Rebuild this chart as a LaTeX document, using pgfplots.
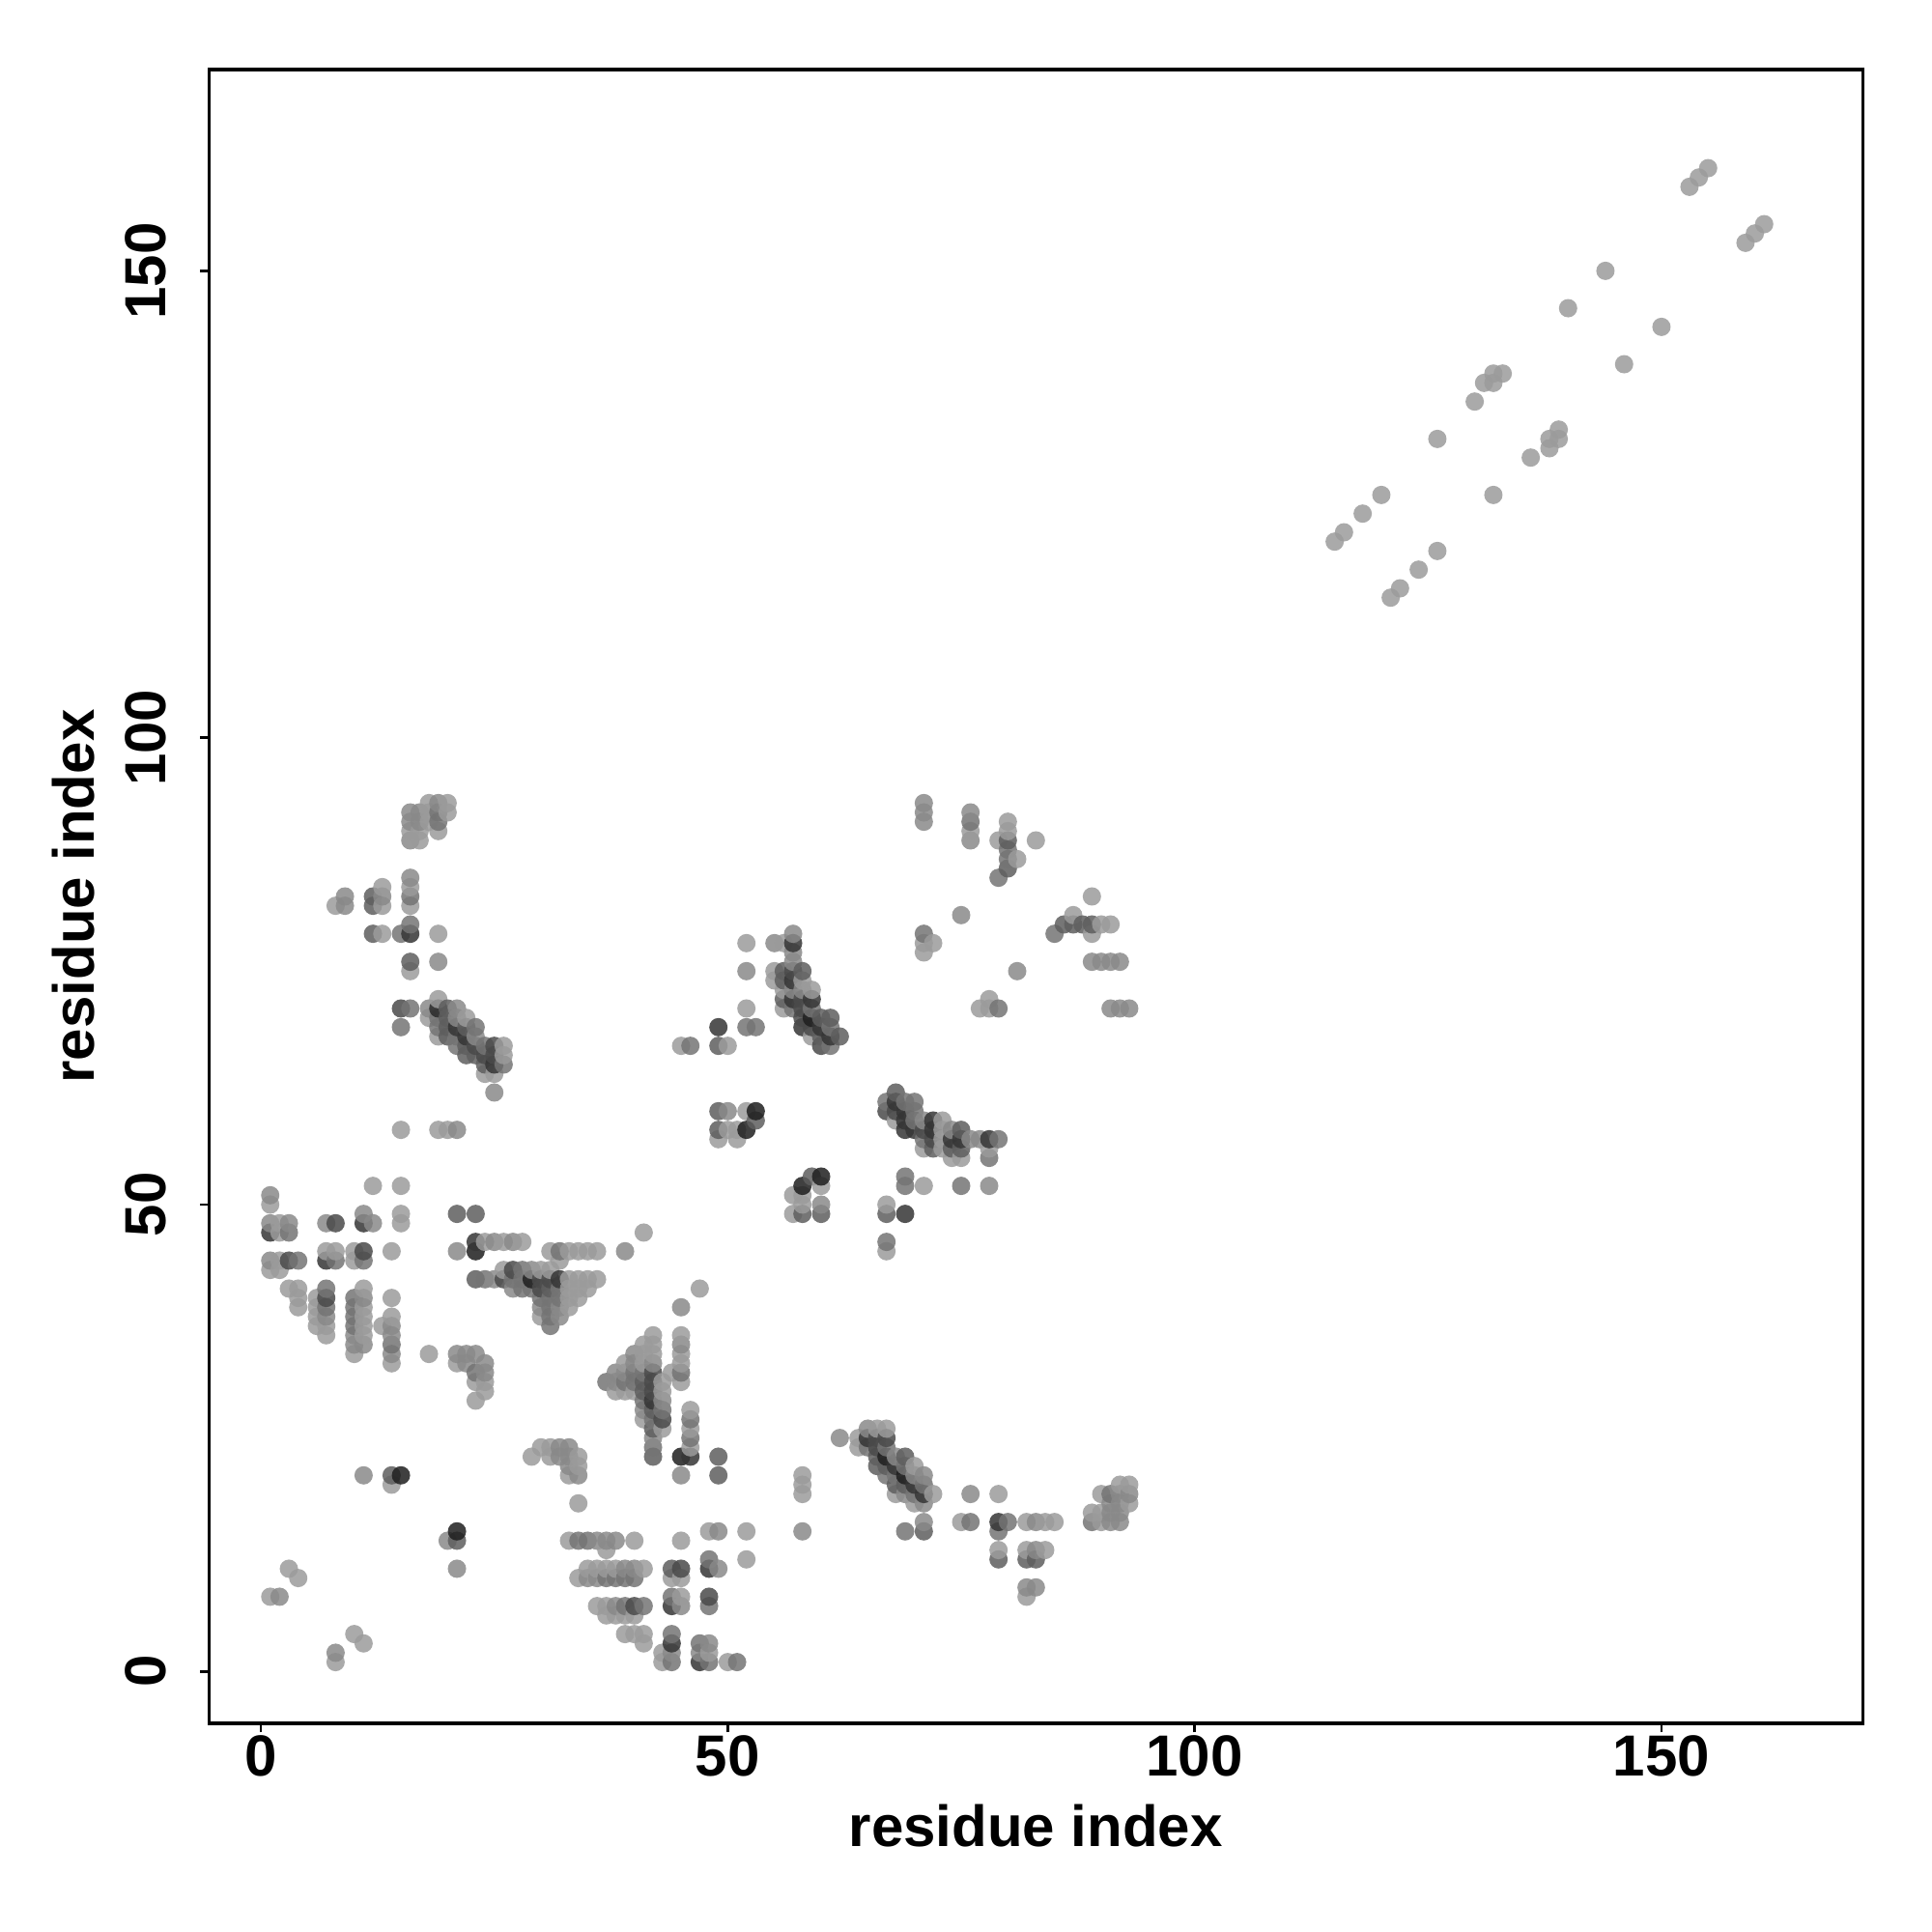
\documentclass[border=0pt]{standalone}
\usepackage{fontspec}
\setmainfont{Liberation Sans}
\usepackage{pgfplots}
\usepackage{pgfplotstable}
\pgfplotsset{compat=1.18}

% contacts: residue i, residue j, grey level
\pgfplotstableread[row sep=\\]{
x y g\\
1 8 0.55\\ 1 43 0.55\\ 1 44 0.47\\ 1 47 0.10\\ 1 48 0.47\\ 1 50 0.55\\ 1 51 0.47\\
2 8 0.47\\ 2 43 0.55\\ 2 44 0.55\\ 2 47 0.55\\ 2 48 0.55\\
3 11 0.55\\ 3 41 0.55\\ 3 44 0.19\\ 3 47 0.38\\ 3 48 0.47\\
4 10 0.55\\ 4 39 0.55\\ 4 40 0.55\\ 4 41 0.55\\ 4 44 0.38\\
6 37 0.55\\ 6 38 0.55\\ 6 39 0.55\\ 6 40 0.55\\
7 36 0.55\\ 7 37 0.55\\ 7 38 0.47\\ 7 39 0.38\\ 7 40 0.19\\ 7 41 0.38\\ 7 44 0.10\\ 7 45 0.55\\ 7 48 0.47\\
8 1 0.55\\ 8 2 0.47\\ 8 44 0.38\\ 8 45 0.55\\ 8 48 0.19\\ 8 82 0.55\\
9 82 0.47\\ 9 83 0.47\\
10 4 0.55\\ 10 34 0.55\\ 10 35 0.47\\ 10 36 0.47\\ 10 37 0.38\\ 10 38 0.38\\ 10 39 0.38\\ 10 40 0.38\\ 10 44 0.55\\ 10 45 0.55\\
11 3 0.55\\ 11 21 0.47\\ 11 35 0.47\\ 11 36 0.55\\ 11 37 0.55\\ 11 38 0.55\\ 11 39 0.55\\ 11 40 0.47\\ 11 41 0.55\\ 11 44 0.38\\ 11 45 0.19\\ 11 48 0.10\\ 11 49 0.47\\
12 48 0.47\\ 12 52 0.55\\ 12 79 0.28\\ 12 82 0.28\\ 12 83 0.28\\
13 37 0.55\\ 13 79 0.55\\ 13 82 0.55\\ 13 83 0.47\\ 13 84 0.55\\
14 20 0.55\\ 14 21 0.28\\ 14 33 0.55\\ 14 34 0.47\\ 14 35 0.38\\ 14 36 0.47\\ 14 37 0.47\\ 14 38 0.55\\ 14 40 0.55\\ 14 45 0.55\\
15 21 0.00\\ 15 48 0.55\\ 15 49 0.55\\ 15 52 0.55\\ 15 58 0.55\\ 15 69 0.38\\ 15 71 0.19\\ 15 79 0.38\\
16 71 0.38\\ 16 75 0.55\\ 16 76 0.28\\ 16 79 0.10\\ 16 80 0.38\\ 16 82 0.55\\ 16 83 0.38\\ 16 84 0.55\\ 16 85 0.47\\ 16 89 0.47\\ 16 90 0.55\\ 16 91 0.47\\ 16 92 0.47\\
17 89 0.55\\ 17 90 0.55\\ 17 91 0.47\\ 17 92 0.47\\
18 34 0.55\\ 18 70 0.55\\ 18 71 0.47\\ 18 91 0.55\\ 18 92 0.55\\ 18 93 0.55\\
19 58 0.55\\ 19 68 0.55\\ 19 69 0.38\\ 19 70 0.38\\ 19 71 0.05\\ 19 72 0.55\\ 19 76 0.47\\ 19 79 0.55\\ 19 90 0.55\\ 19 91 0.38\\ 19 92 0.38\\ 19 93 0.47\\
20 14 0.47\\ 20 58 0.55\\ 20 68 0.28\\ 20 69 0.28\\ 20 70 0.28\\ 20 71 0.28\\ 20 92 0.55\\ 20 93 0.55\\
21 11 0.47\\ 21 14 0.28\\ 21 15 0.00\\ 21 33 0.55\\ 21 34 0.47\\ 21 45 0.47\\ 21 49 0.28\\ 21 58 0.47\\ 21 67 0.38\\ 21 68 0.38\\ 21 69 0.10\\ 21 70 0.47\\ 21 71 0.47\\
22 33 0.47\\ 22 34 0.47\\ 22 66 0.28\\ 22 67 0.28\\ 22 68 0.10\\ 22 69 0.28\\ 22 70 0.55\\
23 29 0.55\\ 23 31 0.55\\ 23 32 0.38\\ 23 34 0.47\\ 23 42 0.28\\ 23 45 0.00\\ 23 46 0.10\\ 23 49 0.28\\ 23 66 0.28\\ 23 67 0.19\\ 23 68 0.47\\ 23 69 0.38\\
24 30 0.55\\ 24 31 0.55\\ 24 32 0.47\\ 24 33 0.47\\ 24 42 0.38\\ 24 46 0.55\\ 24 64 0.55\\ 24 65 0.28\\ 24 66 0.19\\ 24 67 0.38\\
25 42 0.47\\ 25 46 0.47\\ 25 62 0.47\\ 25 64 0.55\\ 25 65 0.10\\ 25 66 0.19\\ 25 67 0.19\\
26 42 0.19\\ 26 43 0.55\\ 26 46 0.55\\ 26 65 0.38\\ 26 66 0.55\\ 26 67 0.55\\
27 41 0.47\\ 27 42 0.38\\ 27 43 0.19\\ 27 46 0.47\\
28 41 0.38\\ 28 42 0.38\\ 28 43 0.38\\ 28 46 0.55\\
29 23 0.55\\ 29 41 0.38\\ 29 42 0.00\\ 29 43 0.47\\
30 24 0.55\\ 30 38 0.55\\ 30 39 0.47\\ 30 40 0.38\\ 30 41 0.19\\ 30 42 0.19\\ 30 43 0.55\\
31 23 0.55\\ 31 24 0.55\\ 31 37 0.38\\ 31 38 0.38\\ 31 39 0.38\\ 31 40 0.38\\ 31 41 0.28\\ 31 42 0.19\\ 31 43 0.55\\ 31 45 0.55\\
32 23 0.47\\ 32 24 0.47\\ 32 38 0.47\\ 32 39 0.47\\ 32 40 0.38\\ 32 41 0.38\\ 32 42 0.10\\ 32 44 0.55\\ 32 45 0.38\\
33 14 0.55\\ 33 21 0.55\\ 33 22 0.47\\ 33 23 0.47\\ 33 24 0.47\\ 33 39 0.55\\ 33 40 0.55\\ 33 41 0.55\\ 33 42 0.55\\ 33 45 0.55\\
34 10 0.55\\ 34 14 0.38\\ 34 18 0.55\\ 34 21 0.47\\ 34 22 0.55\\ 34 23 0.55\\ 34 40 0.55\\ 34 41 0.55\\ 34 42 0.55\\ 34 45 0.55\\
35 10 0.47\\ 35 11 0.55\\ 35 14 0.38\\ 35 41 0.55\\ 35 42 0.55\\ 35 45 0.55\\
36 7 0.55\\ 36 10 0.47\\ 36 11 0.55\\ 36 14 0.47\\ 36 42 0.55\\ 36 45 0.55\\
37 6 0.55\\ 37 7 0.55\\ 37 10 0.38\\ 37 11 0.55\\ 37 13 0.55\\ 37 14 0.47\\ 37 31 0.38\\
38 6 0.55\\ 38 7 0.47\\ 38 10 0.38\\ 38 11 0.55\\ 38 14 0.47\\ 38 30 0.55\\ 38 31 0.47\\ 38 32 0.47\\
39 4 0.55\\ 39 6 0.55\\ 39 7 0.38\\ 39 10 0.38\\ 39 11 0.47\\ 39 30 0.55\\ 39 31 0.38\\ 39 32 0.47\\ 39 33 0.55\\ 39 45 0.47\\
40 4 0.55\\ 40 6 0.55\\ 40 7 0.19\\ 40 10 0.38\\ 40 11 0.47\\ 40 14 0.55\\ 40 30 0.55\\ 40 31 0.38\\ 40 32 0.38\\ 40 33 0.47\\ 40 34 0.47\\
41 3 0.55\\ 41 4 0.55\\ 41 7 0.38\\ 41 11 0.55\\ 41 27 0.55\\ 41 28 0.47\\ 41 29 0.38\\ 41 30 0.28\\ 41 31 0.28\\ 41 32 0.38\\ 41 33 0.55\\ 41 34 0.55\\ 41 35 0.55\\ 41 47 0.55\\
42 23 0.28\\ 42 24 0.38\\ 42 25 0.47\\ 42 26 0.28\\ 42 27 0.38\\ 42 28 0.28\\ 42 29 0.10\\ 42 30 0.19\\ 42 31 0.19\\ 42 32 0.19\\ 42 33 0.47\\ 42 34 0.55\\ 42 35 0.55\\ 42 36 0.55\\
43 1 0.55\\ 43 2 0.55\\ 43 26 0.55\\ 43 27 0.19\\ 43 28 0.38\\ 43 29 0.47\\ 43 30 0.55\\ 43 31 0.55\\
44 1 0.38\\ 44 2 0.47\\ 44 3 0.10\\ 44 4 0.38\\ 44 7 0.10\\ 44 8 0.38\\ 44 10 0.55\\ 44 11 0.28\\ 44 32 0.55\\
45 7 0.47\\ 45 8 0.55\\ 45 10 0.55\\ 45 11 0.19\\ 45 14 0.55\\ 45 21 0.47\\ 45 23 0.00\\ 45 31 0.55\\ 45 32 0.38\\ 45 33 0.55\\ 45 34 0.55\\ 45 35 0.47\\ 45 36 0.55\\ 45 39 0.47\\ 45 67 0.55\\
46 23 0.10\\ 46 24 0.55\\ 46 25 0.38\\ 46 26 0.55\\ 46 27 0.38\\ 46 28 0.55\\ 46 67 0.38\\
47 1 0.10\\ 47 2 0.47\\ 47 3 0.38\\ 47 41 0.55\\
48 1 0.38\\ 48 2 0.55\\ 48 3 0.47\\ 48 7 0.38\\ 48 8 0.19\\ 48 11 0.10\\ 48 12 0.38\\ 48 15 0.55\\
49 11 0.47\\ 49 15 0.47\\ 49 21 0.28\\ 49 23 0.28\\ 49 57 0.55\\ 49 58 0.28\\ 49 60 0.28\\ 49 67 0.28\\ 49 69 0.10\\
50 1 0.55\\ 50 58 0.55\\ 50 60 0.47\\ 50 67 0.55\\
51 1 0.38\\ 51 57 0.55\\ 51 58 0.55\\
52 12 0.55\\ 52 15 0.55\\ 52 58 0.00\\ 52 60 0.55\\ 52 69 0.38\\ 52 71 0.55\\ 52 75 0.47\\ 52 78 0.55\\
53 59 0.28\\ 53 60 0.00\\ 53 69 0.38\\
55 74 0.55\\ 55 75 0.55\\ 55 78 0.47\\
56 71 0.55\\ 56 72 0.28\\ 56 73 0.55\\ 56 74 0.28\\ 56 75 0.28\\ 56 78 0.55\\
57 49 0.55\\ 57 51 0.55\\ 57 71 0.38\\ 57 72 0.10\\ 57 73 0.47\\ 57 74 0.10\\ 57 75 0.19\\ 57 76 0.47\\ 57 77 0.47\\ 57 78 0.10\\ 57 79 0.47\\
58 15 0.47\\ 58 19 0.55\\ 58 20 0.55\\ 58 21 0.55\\ 58 49 0.28\\ 58 50 0.55\\ 58 51 0.55\\ 58 52 0.00\\ 58 69 0.10\\ 58 70 0.19\\ 58 71 0.19\\ 58 72 0.19\\ 58 73 0.47\\ 58 74 0.55\\ 58 75 0.28\\
59 53 0.28\\ 59 68 0.55\\ 59 69 0.19\\ 59 70 0.00\\ 59 71 0.38\\ 59 72 0.10\\ 59 73 0.55\\
60 49 0.28\\ 60 50 0.47\\ 60 52 0.55\\ 60 53 0.00\\ 60 67 0.19\\ 60 68 0.28\\ 60 69 0.10\\ 60 70 0.28\\
61 67 0.38\\ 61 68 0.10\\ 61 69 0.38\\ 61 70 0.28\\
62 25 0.47\\ 62 68 0.28\\
64 24 0.55\\ 64 25 0.55\\
65 24 0.38\\ 65 25 0.10\\ 65 26 0.47\\
66 22 0.28\\ 66 23 0.28\\ 66 24 0.19\\ 66 25 0.19\\ 66 26 0.55\\
67 21 0.38\\ 67 22 0.28\\ 67 23 0.00\\ 67 24 0.38\\ 67 25 0.19\\ 67 26 0.55\\ 67 45 0.55\\ 67 46 0.38\\ 67 49 0.28\\ 67 50 0.55\\ 67 60 0.19\\ 67 61 0.38\\
68 19 0.55\\ 68 20 0.28\\ 68 21 0.38\\ 68 22 0.10\\ 68 23 0.47\\ 68 59 0.55\\ 68 60 0.19\\ 68 61 0.10\\ 68 62 0.28\\
69 15 0.38\\ 69 19 0.47\\ 69 20 0.28\\ 69 21 0.00\\ 69 22 0.38\\ 69 23 0.28\\ 69 49 0.10\\ 69 52 0.38\\ 69 53 0.38\\ 69 58 0.10\\ 69 59 0.10\\ 69 60 0.10\\ 69 61 0.38\\
70 18 0.55\\ 70 19 0.38\\ 70 20 0.10\\ 70 21 0.47\\ 70 22 0.55\\ 70 58 0.10\\ 70 59 0.38\\ 70 60 0.38\\ 70 61 0.38\\
71 15 0.28\\ 71 16 0.47\\ 71 18 0.47\\ 71 19 0.10\\ 71 20 0.38\\ 71 21 0.47\\ 71 52 0.55\\ 71 56 0.55\\ 71 57 0.38\\ 71 58 0.19\\ 71 59 0.47\\ 71 77 0.55\\ 71 78 0.55\\ 71 79 0.38\\ 71 91 0.47\\ 71 92 0.47\\ 71 93 0.47\\
72 19 0.55\\ 72 56 0.28\\ 72 57 0.19\\ 72 58 0.10\\ 72 59 0.10\\ 72 78 0.55\\
73 56 0.55\\ 73 57 0.55\\ 73 58 0.55\\ 73 59 0.55\\
74 55 0.55\\ 74 56 0.28\\ 74 57 0.10\\ 74 58 0.47\\
75 16 0.55\\ 75 52 0.38\\ 75 55 0.55\\ 75 56 0.28\\ 75 57 0.10\\ 75 58 0.28\\ 75 81 0.47\\
76 16 0.38\\ 76 19 0.47\\ 76 57 0.47\\ 76 89 0.47\\ 76 90 0.55\\ 76 91 0.38\\ 76 92 0.47\\
77 57 0.47\\ 77 71 0.55\\
78 52 0.47\\ 78 55 0.38\\ 78 56 0.55\\ 78 57 0.10\\ 78 71 0.55\\ 78 72 0.55\\
79 12 0.28\\ 79 13 0.55\\ 79 15 0.38\\ 79 16 0.10\\ 79 19 0.55\\ 79 57 0.38\\ 79 71 0.38\\ 79 85 0.38\\ 79 89 0.55\\
80 16 0.38\\ 80 86 0.28\\ 80 87 0.38\\ 80 88 0.38\\ 80 89 0.28\\ 80 90 0.55\\ 80 91 0.55\\
81 75 0.47\\ 81 87 0.55\\
82 8 0.55\\ 82 9 0.47\\ 82 12 0.28\\ 82 13 0.55\\ 82 16 0.55\\
83 9 0.47\\ 83 12 0.28\\ 83 13 0.47\\ 83 16 0.47\\ 83 89 0.55\\
84 13 0.55\\ 84 16 0.55\\
85 16 0.55\\ 85 79 0.38\\
86 80 0.28\\
87 80 0.28\\ 87 81 0.55\\
88 80 0.28\\
89 16 0.38\\ 89 17 0.55\\ 89 76 0.47\\ 89 79 0.55\\ 89 80 0.28\\ 89 83 0.55\\
90 16 0.55\\ 90 17 0.55\\ 90 19 0.55\\ 90 76 0.47\\ 90 80 0.55\\
91 16 0.47\\ 91 17 0.47\\ 91 18 0.47\\ 91 19 0.38\\ 91 71 0.47\\ 91 76 0.47\\ 91 80 0.55\\
92 16 0.47\\ 92 17 0.47\\ 92 18 0.47\\ 92 19 0.47\\ 92 20 0.55\\ 92 71 0.47\\ 92 76 0.47\\
93 18 0.55\\ 93 19 0.47\\ 93 20 0.55\\ 93 71 0.47\\
115 121 0.55\\ 116 122 0.55\\ 118 124 0.55\\ 120 126 0.55\\ 121 115 0.55\\ 122 116 0.55\\ 124 118 0.55\\
126 120 0.55\\ 126 132 0.55\\ 130 136 0.55\\ 131 138 0.55\\ 132 126 0.55\\ 132 138 0.55\\ 132 139 0.55\\ 133 139 0.55\\
136 130 0.55\\ 138 131 0.55\\ 138 132 0.55\\ 139 132 0.55\\ 139 133 0.55\\ 140 146 0.55\\ 144 150 0.55\\
146 140 0.55\\ 150 144 0.55\\ 153 159 0.55\\ 154 160 0.55\\ 155 161 0.55\\ 159 153 0.55\\ 160 154 0.55\\ 161 155 0.55\\
}\contacts

\begin{document}
\begin{tikzpicture}[x=1pt,y=1pt]
\useasboundingbox (0,0) rectangle (600,600);
\begin{axis}[
  at={(64.9pt,64.8pt)},anchor=south west,
  scale only axis,width=513.6pt,height=513.6pt,
  xmin=-5.56,xmax=171.56,ymin=-5.56,ymax=171.56,
  axis line style={line width=1.1pt},
  tick align=outside,tick pos=lower,
  major tick length=2.8pt,
  tick style={black,line width=.85pt},
  xtick={0,50,100,150},ytick={0,50,100,150},
  xticklabels={0,50,100,150},yticklabels={0,50,100,150},
  tick label style={font=\fontsize{18}{20}\selectfont\bfseries},
  xticklabel style={anchor=north,yshift=2.65pt},
  yticklabel style={rotate=90,anchor=south,yshift=6.8pt},
  xlabel={residue index},ylabel={residue index},
  label style={font=\fontsize{18}{20}\selectfont\bfseries},
  xlabel style={at={(axis description cs:0.5,0)},anchor=base,yshift=-38.1pt},
  ylabel style={at={(axis description cs:0,0.5)},anchor=base,rotate=0,yshift=35.6pt},
  colormap={bw}{gray(0cm)=(0.12); gray(1cm)=(1)},
  point meta=explicit,point meta min=0,point meta max=1,
]
\addplot[scatter,only marks,mark=*,mark size=2.85pt,
  scatter/use mapped color={draw opacity=0,fill=mapped color},
  scatter/@pre marker code/.append code={\pgfsetfillopacity{0.85}\pgfsetstrokeopacity{0}}]
  table[x=x,y=y,meta=g]{\contacts};
\end{axis}
\end{tikzpicture}
\end{document}
